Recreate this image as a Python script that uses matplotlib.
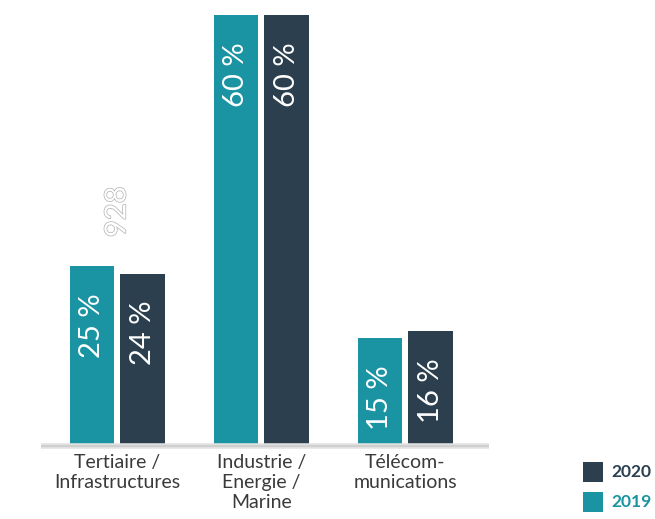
import matplotlib
matplotlib.use("Agg")
import matplotlib.pyplot as plt
import matplotlib.patheffects as pe
from matplotlib.patches import Rectangle

categories = ["Tertiaire /\nInfrastructures", "Industrie /\nEnergie /\nMarine", "Télécom-\nmunications"]
values_2019 = [25, 60, 15]
values_2020 = [24, 60, 16]
labels_2019 = ["25 %", "60 %", "15 %"]
labels_2020 = ["24 %", "60 %", "16 %"]

TEAL = "#1a93a3"
DARK = "#2b3f4e"
FONT = "Lato"

W, H = 655, 519
fig = plt.figure(figsize=(W/100, H/100), dpi=100)
ax = fig.add_axes([40/W, 73/H, 450/W, 431/H])
ax.set_xlim(-0.538, 2.587)
ax.set_ylim(0, 60)
ax.axis("off")

x = list(range(len(categories)))
off, bw = 0.176, 0.31
b1 = ax.bar([i - off for i in x], values_2019, bw, color=TEAL, clip_on=False)
b2 = ax.bar([i + off for i in x], values_2020, bw, color=DARK, clip_on=False)

px = 60/431  # data units per pixel
for bars, labs in ((b1, labels_2019), (b2, labels_2020)):
    for r, lab in zip(bars, labs):
        ax.text(r.get_x() + r.get_width()/2, r.get_height() - 27*px, lab,
                rotation=90, ha="center", va="top", color="white",
                fontsize=21, family=FONT, clip_on=False)

# baseline shadow
ax.plot([-0.53, 2.58], [0, 0], color="#e2e2e2", lw=4, clip_on=False, solid_capstyle="butt")
ax.plot([-0.53, 2.58], [0, 0], color="#cfcfcf", lw=1.5, clip_on=False, solid_capstyle="butt")

# category labels
for i, c in enumerate(categories):
    ax.text(i, -8*px, c, ha="center", va="top", fontsize=14, family=FONT,
            color="#3a3a3a", linespacing=1.2, clip_on=False)

# stray "928" outlined text
t = ax.text(0, 32.6, "928", rotation=90, ha="center", va="center", fontsize=21,
            family=FONT, color="white", clip_on=False)
t.set_path_effects([pe.Stroke(linewidth=1.0, foreground="#b0b0b0"), pe.Normal()])

# legend
for yb, col, lab in ((37, DARK, "2020"), (7, TEAL, "2019")):
    fig.patches.append(Rectangle((583/W, yb/H), 20/W, 20/H, transform=fig.transFigure,
                                 facecolor=col, edgecolor="none"))
    fig.text(611/W, (yb + 10)/H, lab, ha="left", va="center", fontsize=12.5,
             fontweight="bold", family=FONT, color=col)

fig.savefig("out.png", dpi=100)
